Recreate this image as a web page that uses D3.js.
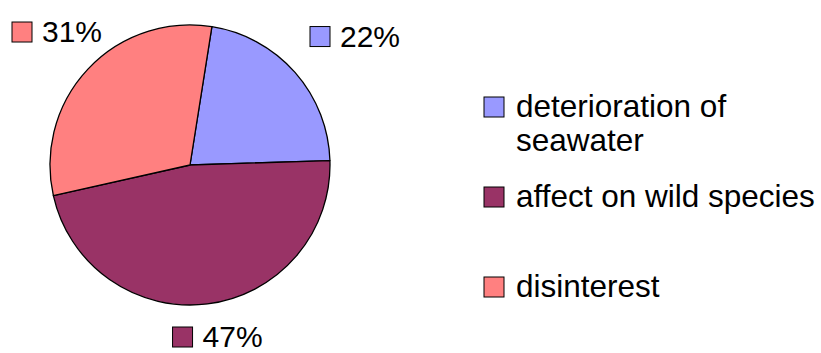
<!DOCTYPE html>
<html>
<head>
<meta charset="utf-8">
<script src="https://cdn.jsdelivr.net/npm/d3@7"></script>
<style>
  html, body { margin: 0; padding: 0; background: #fff; }
  svg { display: block; }
  text { font-family: "Liberation Sans", Arial, sans-serif; fill: #000; }
</style>
</head>
<body>
<svg id="chart" width="821" height="353"></svg>
<script>
// Survey answers: share of respondents per concern
const categories = ["deterioration of seawater", "affect on wild species", "disinterest"];
const legendLines = [["deterioration of", "seawater"], ["affect on wild species"], ["disinterest"]];
const values = [22, 47, 31];
const colors = ["#9999FF", "#993366", "#FF8080"];

const W = 821, H = 353;
const cx = 190, cy = 165, radius = 140;
const startDeg = 9;
const labelFont = 30, legendFont = 31.5;

const svg = d3.select("#chart");

const pie = d3.pie()
  .sort(null)
  .value(d => d.value)
  .startAngle(startDeg * Math.PI / 180)
  .endAngle(startDeg * Math.PI / 180 + 2 * Math.PI);

const data = categories.map((c, i) => ({ name: c, value: values[i], color: colors[i] }));
const arcs = pie(data);

const arc = d3.arc().innerRadius(0).outerRadius(radius);

const pieG = svg.append("g").attr("transform", `translate(${cx},${cy})`);
pieG.selectAll("path")
  .data(arcs)
  .join("path")
  .attr("d", arc)
  .attr("fill", d => d.data.color)
  .attr("stroke", "#000")
  .attr("stroke-width", 1.3)
  .attr("stroke-linejoin", "round");

// Percentage labels outside each slice (elliptical label ring), kept inside the chart area
const total = d3.sum(values);
const labelRx = radius + 80, labelRy = radius + 55;
const keySize = 20, keyGap = 10, pad = 12, topMin = 18, bottomMax = H - 6;

arcs.forEach(a => {
  const mid = (a.startAngle + a.endAngle) / 2;
  const g = svg.append("g");
  const t = g.append("text")
    .attr("font-size", labelFont)
    .text(Math.round(a.data.value / total * 100) + "%");
  const tw = t.node().getComputedTextLength();
  const bw = keySize + keyGap + tw, bh = 21;
  let lx = cx + labelRx * Math.sin(mid) - bw / 2;
  let ly = cy - labelRy * Math.cos(mid) - bh / 2;
  lx = Math.max(pad, Math.min(W - pad - bw, lx));
  ly = Math.max(topMin, Math.min(bottomMax - bh, ly));
  const base = ly + bh;
  g.insert("rect", "text")
    .attr("x", lx).attr("y", base - keySize)
    .attr("width", keySize).attr("height", keySize)
    .attr("fill", a.data.color)
    .attr("stroke", "#000").attr("stroke-width", 1);
  t.attr("x", lx + keySize + keyGap).attr("y", base);
});

// Legend
const legendX = 484, legendTextX = 516, legendTop = 117, legendStep = 90, lineH = 33.5;
const leg = svg.append("g");
data.forEach((d, i) => {
  const base = legendTop + i * legendStep;
  leg.append("rect")
    .attr("x", legendX).attr("y", base - keySize)
    .attr("width", keySize).attr("height", keySize)
    .attr("fill", d.color)
    .attr("stroke", "#000").attr("stroke-width", 1);
  const t = leg.append("text")
    .attr("x", legendTextX).attr("y", base)
    .attr("font-size", legendFont);
  legendLines[i].forEach((ln, j) => {
    t.append("tspan")
      .attr("x", legendTextX)
      .attr("dy", j === 0 ? 0 : lineH)
      .text(ln);
  });
});
</script>
</body>
</html>
